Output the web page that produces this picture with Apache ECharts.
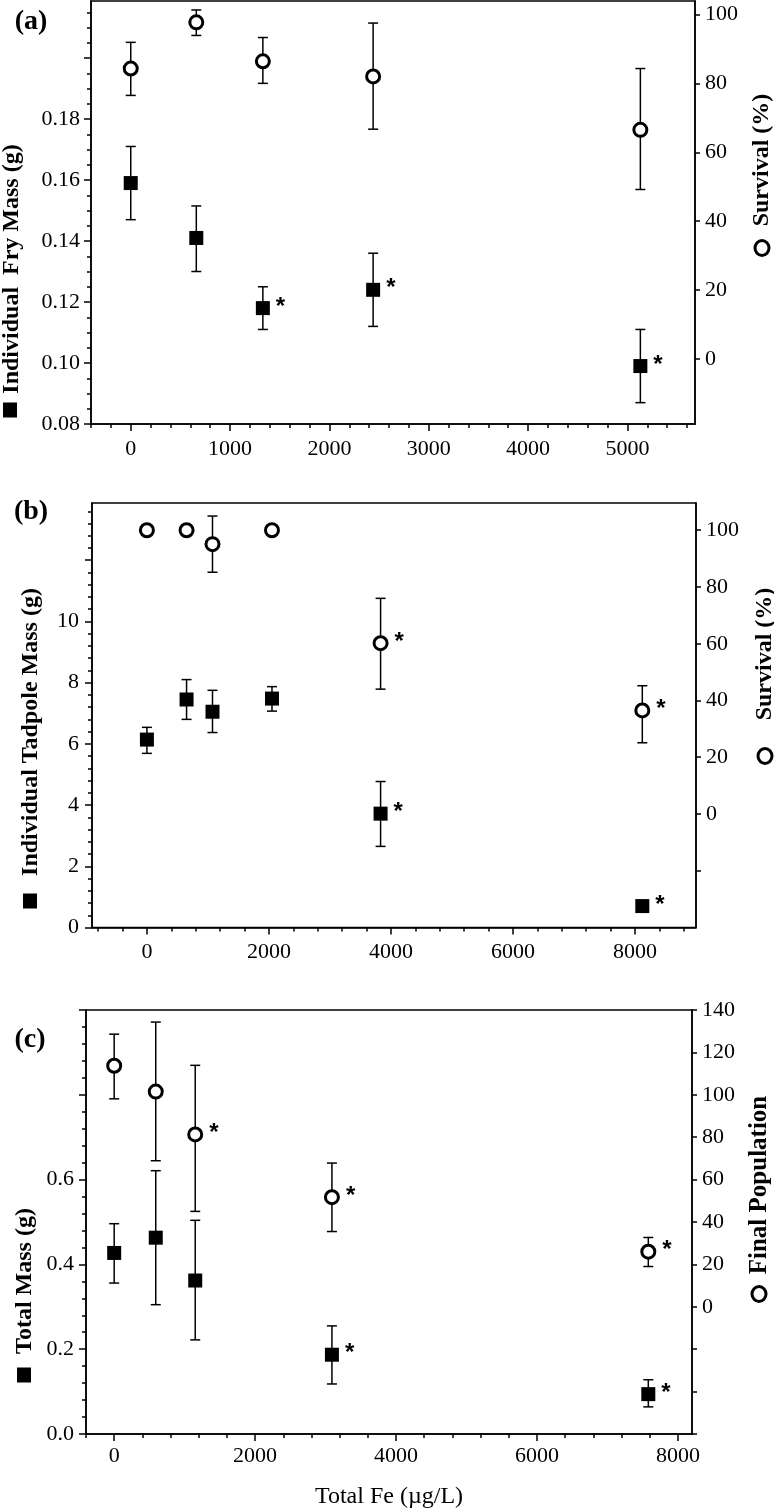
<!DOCTYPE html>
<html><head><meta charset="utf-8">
<script src="https://cdn.jsdelivr.net/npm/echarts@6/dist/echarts.min.js"></script>
<style>html,body{margin:0;padding:0;background:#fff}#c{width:774px;height:1510px}</style>
</head><body><div id="c"></div>
<script>
// ---------- Panel (a): fry ----------
const feA = [0, 660, 1330, 2440, 5130];
const fryMass   = [0.159, 0.141, 0.118, 0.124, 0.099];
const fryMassLo = [0.147, 0.130, 0.111, 0.112, 0.087];
const fryMassHi = [0.171, 0.1515, 0.125, 0.136, 0.111];
const fryMassSig = [0, 0, 1, 1, 1];
const frySurv   = [84.3, 97.7, 86.4, 82.0, 66.5];
const frySurvLo = [76.5, 93.9, 80.0, 66.7, 49.2];
const frySurvHi = [91.9, 101.3, 93.3, 97.5, 84.3];
const frySurvSig = [0, 0, 0, 0, 0];

// ---------- Panel (b): tadpoles ----------
const feB = [0, 650, 1075, 2050, 3830, 8120];
const tadMass   = [6.14, 7.45, 7.05, 7.48, 3.72, 0.70];
const tadMassLo = [5.69, 6.80, 6.37, 7.07, 2.65, 0.62];
const tadMassHi = [6.54, 8.10, 7.75, 7.87, 4.77, 0.78];
const tadMassSig = [0, 0, 0, 0, 1, 1];
const tadSurv   = [100, 100, 95.1, 100, 60.2, 36.5];
const tadSurvLo = [null, null, 85.2, null, 44.0, 25.1];
const tadSurvHi = [null, null, 105.0, null, 76.0, 45.2];
const tadSurvSig = [0, 0, 0, 0, 1, 1];

// ---------- Panel (c): total / population ----------
const feC = [0, 590, 1150, 3090, 7580];
const totMass   = [0.427, 0.463, 0.362, 0.187, 0.094];
const totMassLo = [0.356, 0.305, 0.222, 0.118, 0.064];
const totMassHi = [0.496, 0.621, 0.504, 0.255, 0.128];
const totMassSig = [0, 0, 0, 1, 1];
const finalPop   = [113.7, 101.5, 81.3, 51.7, 26.0];
const finalPopLo = [98.1, 68.9, 45.0, 35.5, 19.0];
const finalPopHi = [128.6, 134.3, 113.9, 67.8, 32.7];
const finalPopSig = [0, 0, 1, 1, 1];

// ---------- tick labels ----------
const xLabelsA = [0, 1000, 2000, 3000, 4000, 5000];
const xLabelsB = [0, 2000, 4000, 6000, 8000];
const xLabelsC = [0, 2000, 4000, 6000, 8000];
const leftLabelsA = [0.08, 0.10, 0.12, 0.14, 0.16, 0.18];
const leftMajorA  = [0.08, 0.10, 0.12, 0.14, 0.16, 0.18, 0.20];
const leftLabelsB = [0, 2, 4, 6, 8, 10];
const leftMajorB  = [0, 2, 4, 6, 8, 10, 12];
const leftLabelsC = [0.0, 0.2, 0.4, 0.6];
const leftMajorC  = [0.0, 0.2, 0.4, 0.6, 0.8, 1.0];
const rightLabelsA = [0, 20, 40, 60, 80, 100];
const rightTicksA  = [0, 20, 40, 60, 80, 100];
const rightLabelsB = [0, 20, 40, 60, 80, 100];
const rightTicksB  = [-20, 0, 20, 40, 60, 80, 100];
const rightLabelsC = [0, 20, 40, 60, 80, 100, 120, 140];
const rightTicksC  = [-60, -40, -20, 0, 20, 40, 60, 80, 100, 120, 140];

function steps(a, b, s) { const r = []; for (let k = 0; a + k * s <= b + 1e-9; k++) r.push(+(a + k * s).toFixed(6)); return r; }

const FONT = 'Liberation Serif';
const panels = [
  { grid: {left: 91, top: 1, width: 604, height: 423},
    x: {min: -400, max: 5680, labels: xLabelsA, minor: steps(-400, 5600, 200)},
    yl: {min: 0.08, max: 0.2187, labels: leftLabelsA, major: leftMajorA, minor: steps(0.08, 0.215, 0.005), fmt: v => v.toFixed(2), margin: 11},
    yr: {min: -18.86, max: 103.9, labels: rightLabelsA, ticks: rightTicksA},
    xm: 14,
    sq: [feA, fryMass, fryMassLo, fryMassHi, fryMassSig],
    ci: [feA, frySurv, frySurvLo, frySurvHi, frySurvSig] },
  { grid: {left: 92, top: 503, width: 604, height: 424.5},
    x: {min: -900, max: 9000, labels: xLabelsB, minor: steps(-800, 8800, 400)},
    yl: {min: 0, max: 13.87, labels: leftLabelsB, major: leftMajorB, minor: steps(0, 13.6, 0.4), fmt: v => String(v), margin: 13},
    yr: {min: -40, max: 109.6, labels: rightLabelsB, ticks: rightTicksB},
    xm: 14,
    sq: [feB, tadMass, tadMassLo, tadMassHi, tadMassSig],
    ci: [feB, tadSurv, tadSurvLo, tadSurvHi, tadSurvSig] },
  { grid: {left: 86, top: 1010, width: 606, height: 424},
    x: {min: -400, max: 8200, labels: xLabelsC, minor: steps(-400, 8000, 400)},
    yl: {min: 0, max: 1.0, labels: leftLabelsC, major: leftMajorC, minor: steps(0, 1.0, 0.04), fmt: v => v.toFixed(1), margin: 12},
    yr: {min: -60, max: 140, labels: rightLabelsC, ticks: rightTicksC},
    xm: 11,
    sq: [feC, totMass, totMassLo, totMassHi, totMassSig],
    ci: [feC, finalPop, finalPopLo, finalPopHi, finalPopSig] }
];

const grids = [], xAxes = [], yAxes = [], series = [];
const lineStyle = {color: '#000', width: 1.5};
const lblStyle = {color: '#000', fontFamily: FONT, fontSize: 22};

panels.forEach((p, gi) => {
  grids.push(Object.assign({show: true, borderColor: '#000', borderWidth: 1.5, backgroundColor: 'transparent'}, p.grid));
  const xi = xAxes.length;
  xAxes.push({type: 'value', gridIndex: gi, position: 'bottom', min: p.x.min, max: p.x.max, splitLine: {show: false},
    axisLine: {show: true, onZero: false, lineStyle},
    axisTick: {show: true, inside: false, length: 7, lineStyle, customValues: p.x.labels},
    axisLabel: Object.assign({show: true, margin: p.xm, customValues: p.x.labels, formatter: v => String(v)}, lblStyle)});
  xAxes.push({type: 'value', gridIndex: gi, position: 'bottom', min: p.x.min, max: p.x.max, splitLine: {show: false},
    axisLine: {show: false, onZero: false},
    axisTick: {show: true, inside: false, length: 4, lineStyle, customValues: p.x.minor},
    axisLabel: {show: false}});
  const yl = yAxes.length;
  yAxes.push({type: 'value', gridIndex: gi, position: 'left', min: p.yl.min, max: p.yl.max, splitLine: {show: false},
    axisLine: {show: true, onZero: false, lineStyle},
    axisTick: {show: true, inside: false, length: 7, lineStyle, customValues: p.yl.major},
    axisLabel: Object.assign({show: true, margin: p.yl.margin, customValues: p.yl.labels, formatter: p.yl.fmt}, lblStyle)});
  yAxes.push({type: 'value', gridIndex: gi, position: 'left', min: p.yl.min, max: p.yl.max, splitLine: {show: false},
    axisLine: {show: false, onZero: false},
    axisTick: {show: true, inside: false, length: 4, lineStyle, customValues: p.yl.minor},
    axisLabel: {show: false}});
  const yr = yAxes.length;
  yAxes.push({type: 'value', gridIndex: gi, position: 'right', min: p.yr.min, max: p.yr.max, splitLine: {show: false},
    axisLine: {show: true, onZero: false, lineStyle},
    axisTick: {show: true, inside: false, length: 5, lineStyle, customValues: p.yr.ticks},
    axisLabel: Object.assign({show: true, margin: 10, customValues: p.yr.labels, formatter: v => String(v)}, lblStyle)});

  [[p.sq, yl, 'sq'], [p.ci, yr, 'ci']].forEach(([d, yIdx, kind]) => {
    const [xs, ys, lo, hi, sig] = d;
    series.push({
      type: 'custom', xAxisIndex: xi, yAxisIndex: yIdx, z: 1, silent: true, clip: false,
      data: xs.map((x, i) => [x, lo[i], hi[i]]).filter(r => r[1] != null),
      encode: {x: 0, y: [1, 2]},
      renderItem(params, api) {
        const x = api.value(0);
        const p1 = api.coord([x, api.value(1)]);
        const p2 = api.coord([x, api.value(2)]);
        const w = 5, st = {stroke: '#000', lineWidth: 1.5};
        return {type: 'group', children: [
          {type: 'line', shape: {x1: p1[0], y1: p1[1], x2: p2[0], y2: p2[1]}, style: st},
          {type: 'line', shape: {x1: p1[0] - w, y1: p1[1], x2: p1[0] + w, y2: p1[1]}, style: st},
          {type: 'line', shape: {x1: p2[0] - w, y1: p2[1], x2: p2[0] + w, y2: p2[1]}, style: st}
        ]};
      }
    });
    series.push({
      type: 'scatter', xAxisIndex: xi, yAxisIndex: yIdx, z: 3, silent: true,
      symbol: kind === 'sq' ? 'rect' : 'circle', symbolSize: kind === 'sq' ? 14 : 13,
      itemStyle: kind === 'sq' ? {color: '#000', opacity: 1} : {color: '#fff', borderColor: '#000', borderWidth: 3, opacity: 1},
      label: {formatter: '*', position: 'right', distance: 6, offset: [0, -1], fontSize: 24, fontWeight: 'bold', color: '#000', fontFamily: 'Liberation Sans'},
      data: xs.map((x, i) => ({value: [x, ys[i]], label: {show: !!sig[i]}}))
    });
  });
});

function vtext(txt, x, y, size, weight) {
  return {type: 'text', x, y, rotation: Math.PI / 2, silent: true,
    style: {text: txt, fill: '#000', font: `${weight} ${size}px "${FONT}"`, textAlign: 'center', textVerticalAlign: 'middle', align: 'center', verticalAlign: 'middle'}};
}
function htext(txt, x, y, size, weight) {
  return {type: 'text', x, y, silent: true,
    style: {text: txt, fill: '#000', font: `${weight} ${size}px "${FONT}"`, textAlign: 'center', textVerticalAlign: 'middle', align: 'center', verticalAlign: 'middle'}};
}
function sqMark(x, y) { return {type: 'rect', silent: true, shape: {x: x - 7, y: y - 7.5, width: 14, height: 15}, style: {fill: '#000'}}; }
function ciMark(x, y) { return {type: 'ellipse', silent: true, shape: {cx: x, cy: y, rx: 7, ry: 7.5}, style: {fill: '#fff', stroke: '#000', lineWidth: 3}}; }

const graphics = [
  htext('(a)', 31, 22, 28, 'bold'),
  htext('(b)', 31, 512, 28, 'bold'),
  htext('(c)', 30, 1040, 28, 'bold'),
  sqMark(10, 410), vtext('Individual  Fry Mass (g)', 12, 269, 24, 'bold'),
  ciMark(762, 248), vtext('Survival (%)', 762, 160, 24, 'bold'),
  sqMark(30, 901), vtext('Individual Tadpole Mass (g)', 31, 732, 24, 'bold'),
  ciMark(765, 756), vtext('Survival (%)', 765, 654, 24, 'bold'),
  sqMark(24, 1375), vtext('Total Mass (g)', 25, 1281, 24, 'bold'),
  ciMark(759, 1294), vtext('Final Population', 760, 1185, 25, 'bold'),
  htext('Total Fe (\u00b5g/L)', 389, 1497, 24, 'normal')
];

const chart = echarts.init(document.getElementById('c'), null, {renderer: 'canvas'});
chart.setOption({
  backgroundColor: '#fff', animation: false,
  grid: grids, xAxis: xAxes, yAxis: yAxes, series, graphic: graphics
});
</script></body></html>
